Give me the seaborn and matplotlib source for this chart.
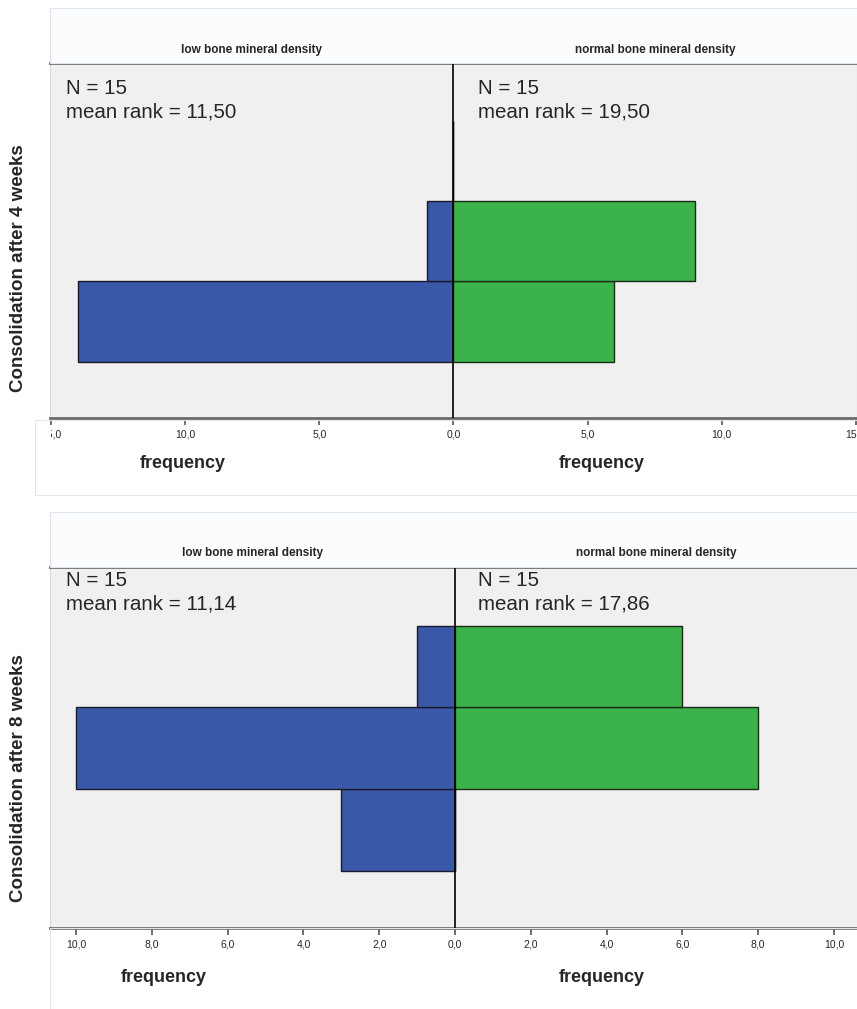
import numpy as np
import pandas as pd
import matplotlib
matplotlib.use("Agg")
import matplotlib.pyplot as plt
from matplotlib.ticker import FuncFormatter
from matplotlib.transforms import Bbox, TransformedBbox
from matplotlib.patches import Rectangle
import seaborn as sns

# Data (frequency per consolidation grade)
grades = [1, 2, 3]
low_4w = [14, 1, 0]
normal_4w = [6, 9, 0]
low_8w = [3, 10, 1]
normal_8w = [0, 8, 6]

panel_titles = ["Consolidation after 4 weeks", "Consolidation after 8 weeks"]
group_names = ["low bone mineral density", "normal bone mineral density"]
n_low = [15, 15]
n_normal = [15, 15]
rank_low = ["11,50", "11,14"]
rank_normal = ["19,50", "17,86"]
ticks_4w = [-15, -10, -5, 0, 5, 10, 15]
ticks_8w = [-10, -8, -6, -4, -2, 0, 2, 4, 6, 8, 10]

BLUE = "#3a58a8"
GREEN = "#3bb34a"
BG = "#f0f0f0"

sns.set_style("white")
plt.rcParams['font.family'] = ['Liberation Sans', 'DejaVu Sans']

W, H = 857, 1009
fig = plt.figure(figsize=(W / 100, H / 100), dpi=100)
fig.patch.set_facecolor("white")


def fx(px):
    return px / W


def fy(py):
    return 1 - py / H


def comma(v, pos=None):
    return f"{abs(v):.1f}".replace('.', ',')


def draw_panel(low, normal, ticks, xmax, grey_top, grey_bot, right_px, head_y, txt_y,
               freq_y, freq_left, title, title_y, rlow, rnorm, nl, nn, left_clip):
    # frame / header box
    fig.patches.append(Rectangle((fx(50), fy(grey_top)), fx(W - 50) + 0.01,
                                 fy(grey_top - 55) - fy(grey_top), transform=fig.transFigure,
                                 facecolor="#fbfcfd", edgecolor="#dde3e8", lw=0.8, zorder=0))
    ax = fig.add_axes([fx(50), fy(grey_bot), fx(right_px - 50), fy(grey_top) - fy(grey_bot)])
    ax.set_facecolor(BG)

    df_low = pd.DataFrame({"grade": grades, "count": [-v for v in low]})
    df_norm = pd.DataFrame({"grade": grades, "count": normal})
    sns.barplot(data=df_low, x="count", y="grade", orient="h", native_scale=True, width=1,
                color=BLUE, saturation=1, edgecolor="#1a1a2a", linewidth=1, errorbar=None, ax=ax)
    sns.barplot(data=df_norm, x="count", y="grade", orient="h", native_scale=True, width=1,
                color=GREEN, saturation=1, edgecolor="#1a2a1a", linewidth=1, errorbar=None, ax=ax)

    ax.axvline(0, color="black", lw=1.2, zorder=5)
    ax.set_xlim(-xmax, xmax)
    ax.set_ylim(-0.2, 4.22)
    ax.set_yticks([])
    ax.set_xticks(ticks)
    ax.xaxis.set_major_formatter(FuncFormatter(comma))
    ax.tick_params(axis="x", direction="out", length=5, width=1.2, color="#555555",
                   labelsize=7.5, pad=3, bottom=True)
    ax.set_xlabel("")
    ax.set_ylabel("")
    for side in ["top", "bottom"]:
        ax.spines[side].set_color("#6a6a6a")
        ax.spines[side].set_linewidth(2)
    for side in ["left", "right"]:
        ax.spines[side].set_color("#d5d8dc")
        ax.spines[side].set_linewidth(0.8)

    # clip the tick labels to the panel frame like the original
    clip = TransformedBbox(Bbox([[fx(left_clip), 0], [1, 1]]), fig.transFigure)
    for lab in ax.get_xticklabels():
        lab.set_clip_box(clip)
        lab.set_clip_on(True)

    mid = 50 + (right_px - 50) / 2
    fig.text(fx((50 + mid) / 2), fy(head_y), group_names[0], ha="center", va="center",
             fontsize=8.5, fontweight="bold", fontstretch="condensed")
    fig.text(fx((mid + W) / 2), fy(head_y), group_names[1], ha="center", va="center",
             fontsize=8.5, fontweight="bold", fontstretch="condensed")

    fig.text(fx(66), fy(txt_y), f"N = {nl}\nmean rank = {rlow}", ha="left", va="top",
             fontsize=14.8, linespacing=1.3)
    fig.text(fx(478), fy(txt_y), f"N = {nn}\nmean rank = {rnorm}", ha="left", va="top",
             fontsize=14.8, linespacing=1.3)

    fig.text(fx(freq_left), fy(freq_y), "frequency", ha="center", va="center",
             fontsize=13, fontweight="bold")
    fig.text(fx(602), fy(freq_y), "frequency", ha="center", va="center",
             fontsize=13, fontweight="bold")

    fig.text(fx(19), fy(title_y), title, rotation=90, ha="center", va="center",
             fontsize=13.5, fontweight="bold")
    return ax


# top panel: 4 weeks
draw_panel(low_4w, normal_4w, ticks_4w, 15.05, 63, 418, 857, 50, 79, 463, 183,
           panel_titles[0], 268, rank_low[0], rank_normal[0], n_low[0], n_normal[0], 51)
fig.patches.append(Rectangle((fx(35), fy(495)), 1, fy(420) - fy(495), transform=fig.transFigure,
                             facecolor="none", edgecolor="#e3e7ea", lw=0.8, zorder=0))

# bottom panel: 8 weeks
draw_panel(low_8w, normal_8w, ticks_8w, 10.69, 567, 928, 860, 553, 571, 977, 164,
           panel_titles[1], 778, rank_low[1], rank_normal[1], n_low[1], n_normal[1], 50)
fig.patches.append(Rectangle((fx(50), fy(1012)), 1, fy(928) - fy(1012), transform=fig.transFigure,
                             facecolor="none", edgecolor="#e3e7ea", lw=0.8, zorder=0))

fig.savefig("out.png", dpi=100, facecolor="white")
